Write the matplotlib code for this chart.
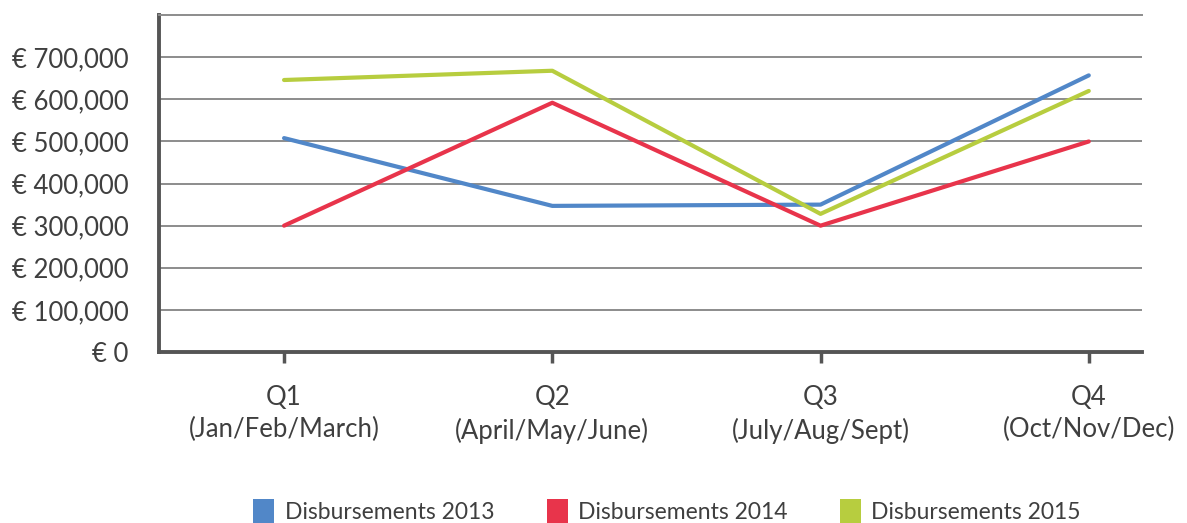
import matplotlib.pyplot as plt
from matplotlib.patches import Patch
from matplotlib.ticker import FuncFormatter

# quarters and disbursements (EUR)
quarters = ['Q1\n(Jan/Feb/March)', 'Q2\n(April/May/June)',
            'Q3\n(July/Aug/Sept)', 'Q4\n(Oct/Nov/Dec)']
disb_2013 = [508000, 347000, 350000, 657000]
disb_2014 = [300000, 592000, 300000, 500000]
disb_2015 = [646000, 668000, 328000, 620000]

series = [('Disbursements 2013', disb_2013, '#5187C8'),
          ('Disbursements 2014', disb_2014, '#E8344B'),
          ('Disbursements 2015', disb_2015, '#B7CD3F')]

plt.rcParams['font.family'] = ['Lato', 'DejaVu Sans']
txt_col = '#3f3f3f'

fig = plt.figure(figsize=(11.87, 5.23), dpi=100)
ax = fig.add_axes([0.134, 0.327, 0.828, 0.644])

x = range(len(quarters))
for name, vals, col in series:
    ax.plot(x, vals, color=col, lw=3.0, solid_capstyle='round', label=name)

ax.set_ylim(0, 800000)
ax.set_xlim(-0.466, 3.198)

# y axis
ax.set_yticks(range(0, 800000, 100000))
ax.yaxis.set_major_formatter(FuncFormatter(lambda v, p: '€ {:,.0f}'.format(v)))
ax.tick_params(axis='y', length=0, pad=22, labelsize=18.5, labelcolor=txt_col)
ax.set_yticks([0], minor=True)
ax.tick_params(axis='y', which='minor', length=8, width=2.5, color='#555555')
ax.grid(axis='y', color='#8c8c8c', lw=1.4)
ax.set_axisbelow(True)

# x axis
ax.set_xticks(list(x))
ax.set_xticklabels(quarters, linespacing=1.35)
ax.tick_params(axis='x', length=8, width=2.5, color='#555555', pad=16,
               labelsize=18.5, labelcolor=txt_col)

for s in ['left', 'bottom']:
    ax.spines[s].set_color('#555555')
    ax.spines[s].set_linewidth(2.8)
ax.spines['right'].set_visible(False)
ax.spines['top'].set_color('#8c8c8c')
ax.spines['top'].set_linewidth(1.4)

handles = [Patch(facecolor=c, edgecolor='none', label=n) for n, _, c in series]
fig.legend(handles=handles, loc='lower center', ncol=3, frameon=False,
           bbox_to_anchor=(0.562, -0.04), fontsize=16.5, labelcolor=txt_col,
           handlelength=0.92, handleheight=1.25, handletextpad=0.44,
           columnspacing=2.3)

fig.savefig('out.png', dpi=100)
